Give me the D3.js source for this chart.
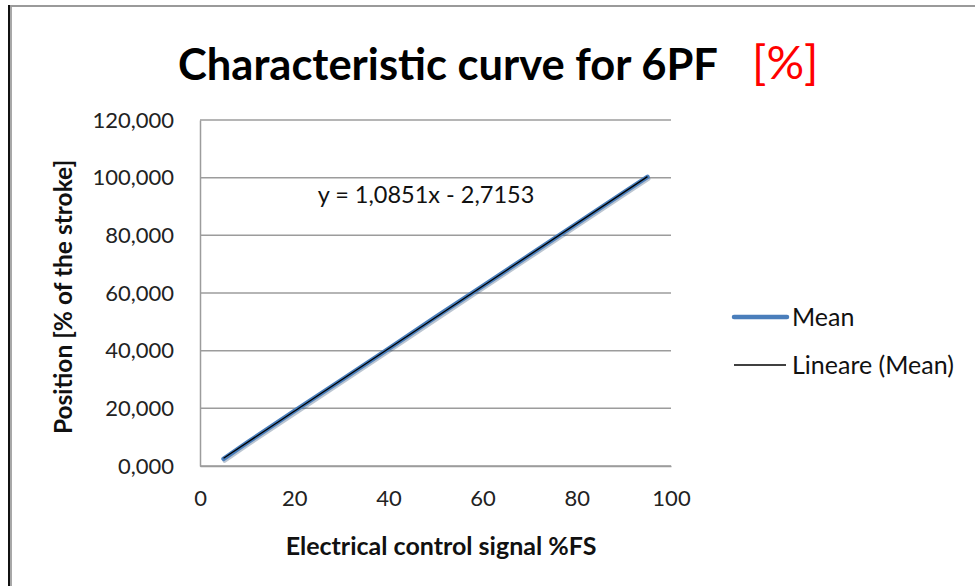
<!DOCTYPE html>
<html>
<head>
<meta charset="utf-8">
<script src="https://cdn.jsdelivr.net/npm/d3@7"></script>
<style>
  html, body { margin: 0; padding: 0; background: #ffffff; }
  svg { display: block; font-family: Lato, "Open Sans", sans-serif; }
</style>
</head>
<body>
<svg id="chart" width="975" height="586"></svg>
<script>
// Measured control signal (%FS) and mean position (% of stroke)
const signal = [5, 10, 20, 30, 40, 50, 60, 70, 80, 90, 95];
const meanPosition = [2.5, 8.1, 19.0, 29.8, 40.6, 51.6, 62.4, 73.2, 84.1, 94.9, 100.3];

// Linear fit reported on the chart: y = slope * x + intercept
const trendSlope = 1.0851;
const trendIntercept = -2.7153;

const xTicks = [0, 20, 40, 60, 80, 100];
const yTicks = [0, 20, 40, 60, 80, 100, 120];
const legendLabels = ["Mean", "Lineare (Mean)"];

const svg = d3.select("#chart");

// outer frame
svg.append("line").attr("x1", 8).attr("x2", 975).attr("y1", 6).attr("y2", 6)
  .attr("stroke", "#9a9a9a").attr("stroke-width", 2);
svg.append("line").attr("x1", 9).attr("x2", 9).attr("y1", 5).attr("y2", 586)
  .attr("stroke", "#111").attr("stroke-width", 2);
svg.append("line").attr("x1", 11).attr("x2", 11).attr("y1", 7).attr("y2", 586)
  .attr("stroke", "#a8a8a8").attr("stroke-width", 2);

const x = d3.scaleLinear().domain([0, 100]).range([200, 671]);
const y = d3.scaleLinear().domain([0, 120]).range([466, 120]);

// horizontal gridlines
svg.append("g").selectAll("line").data(yTicks).join("line")
  .attr("x1", x(0)).attr("x2", x(100))
  .attr("y1", d => y(d)).attr("y2", d => y(d))
  .attr("stroke", "#9c9c9c").attr("stroke-width", 1.5);

// y axis
const yAxis = svg.append("g").attr("transform", `translate(${x(0)},0)`)
  .call(d3.axisLeft(y).tickValues(yTicks).tickSize(0).tickPadding(26)
    .tickFormat(d => d3.format(",.3f")(d).replace(".", ",").replace(/,(\d{3}),/, "$1,")));
yAxis.select(".domain").attr("stroke", "#9c9c9c").attr("stroke-width", 1.5);
yAxis.selectAll("text").attr("font-size", 22).attr("fill", "#222")
  .attr("font-family", "Lato, sans-serif");

// x axis (labels only)
const xAxis = svg.append("g").attr("transform", `translate(0,${y(0)})`)
  .call(d3.axisBottom(x).tickValues(xTicks).tickSize(0).tickPadding(24));
xAxis.select(".domain").attr("stroke", "#9c9c9c").attr("stroke-width", 1.5);
xAxis.selectAll("text").attr("font-size", 22).attr("fill", "#222")
  .attr("font-family", "Lato, sans-serif");

// Mean series
const pts = signal.map((s, i) => [s, meanPosition[i]]);
const line = d3.line().x(d => x(d[0])).y(d => y(d[1]));
svg.append("path").datum(pts).attr("d", line)
  .attr("fill", "none").attr("stroke", "#1f3e66").attr("stroke-opacity", 0.3)
  .attr("stroke-width", 4).attr("stroke-linecap", "round")
  .attr("transform", "translate(1,2)");
svg.append("path").datum(pts).attr("d", line)
  .attr("fill", "none").attr("stroke", "#4a7ebb")
  .attr("stroke-width", 4.5).attr("stroke-linecap", "round");

// linear trend line over the data range
const xr = d3.extent(signal);
svg.append("path").datum(xr.map(v => [v, trendSlope * v + trendIntercept]))
  .attr("d", line).attr("fill", "none").attr("stroke", "#000").attr("stroke-width", 1.3);

// trend equation
const fmt4 = v => Math.abs(v).toFixed(4).replace(".", ",");
svg.append("text").attr("x", 426).attr("y", 203).attr("text-anchor", "middle")
  .attr("font-size", 23.5).attr("fill", "#111")
  .text(`y = ${fmt4(trendSlope)}x ${trendIntercept < 0 ? "-" : "+"} ${fmt4(trendIntercept)}`);

// title
svg.append("text").attr("x", 178).attr("y", 80)
  .attr("font-size", 43.5).attr("font-weight", "bold").attr("fill", "#000")
  .text("Characteristic curve for 6PF");
svg.append("text").attr("x", 752).attr("y", 79)
  .attr("font-size", 47).attr("fill", "#ff0000")
  .text("[%]");

// axis titles
svg.append("text").attr("x", 441).attr("y", 555).attr("text-anchor", "middle")
  .attr("font-size", 25).attr("font-weight", "bold").attr("fill", "#111")
  .text("Electrical control signal %FS");
svg.append("text").attr("transform", `translate(72,${(y(0) + y(120)) / 2 + 4}) rotate(-90)`)
  .attr("text-anchor", "middle").attr("font-size", 24.5).attr("font-weight", "bold").attr("fill", "#111")
  .text("Position [% of the stroke]");

// legend
const legend = svg.append("g");
const ly = [317, 365];
legend.append("line").attr("x1", 734).attr("x2", 787).attr("y1", ly[0]).attr("y2", ly[0])
  .attr("stroke", "#4a7ebb").attr("stroke-width", 4.5).attr("stroke-linecap", "round");
legend.append("line").attr("x1", 734).attr("x2", 786).attr("y1", ly[1]).attr("y2", ly[1])
  .attr("stroke", "#000").attr("stroke-width", 1.3);
legend.selectAll("text").data(legendLabels).join("text")
  .attr("x", 792).attr("y", (d, i) => ly[i] + 9)
  .attr("font-size", 25).attr("fill", "#111").text(d => d);
</script>
</body>
</html>
